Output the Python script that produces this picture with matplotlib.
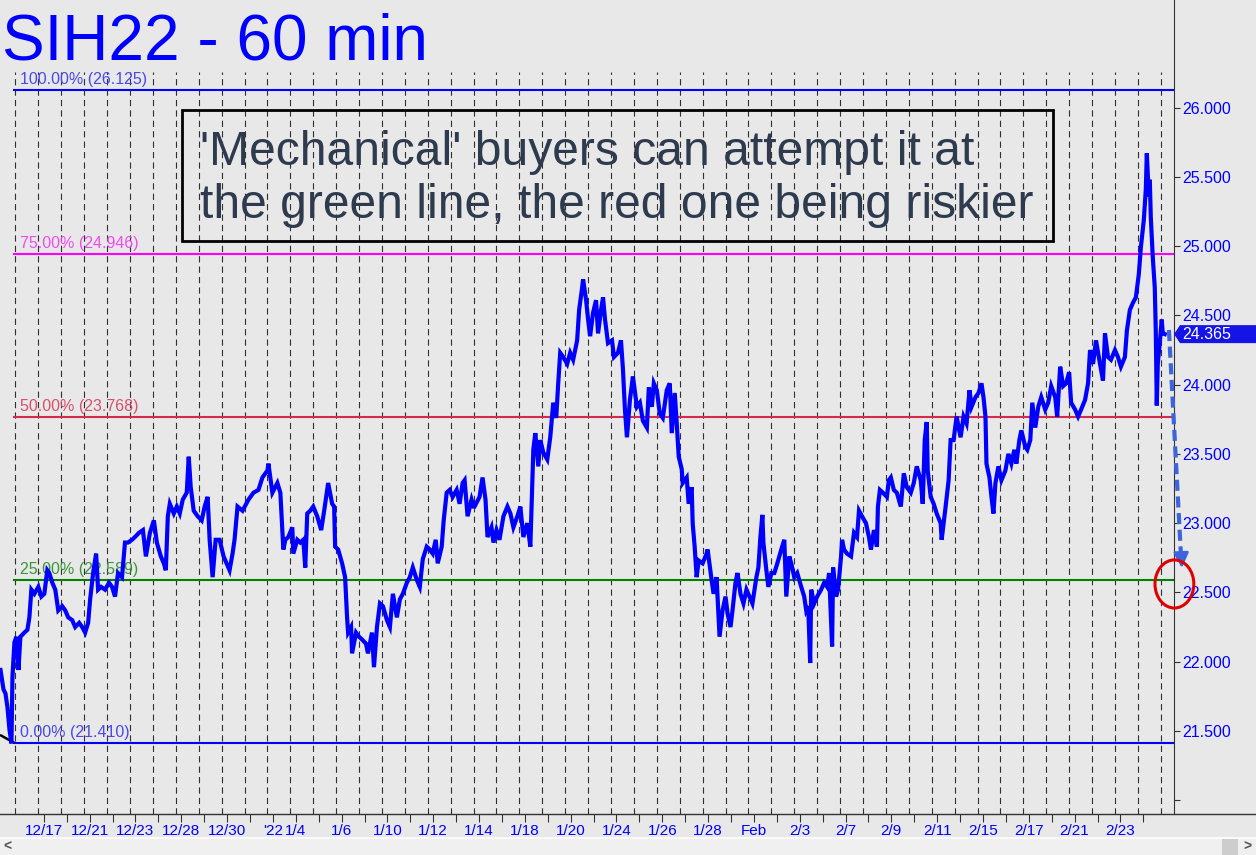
import matplotlib
matplotlib.use("Agg")
import matplotlib.pyplot as plt
import matplotlib.transforms as mtransforms
from matplotlib.patches import Rectangle, Ellipse, Polygon
from matplotlib.lines import Line2D

plt.rcParams['font.family'] = ['Liberation Sans', 'DejaVu Sans']
plt.rcParams['lines.scale_dashes'] = False

# ---------------- data (hourly bar index, 23 bars per trading day) ----------------
hours = [
    -15, -12, -10, -8, -6, -4, -3, -1, 1, 3, 5, 9, 12, 14, 16, 19, 23, 26, 29, 32,
    34, 37, 40, 43, 47, 50, 53, 57, 60, 64, 67, 70, 73, 75, 78, 81, 83, 86, 90, 94,
    97, 100, 103, 107, 110, 113, 117, 120, 124, 128, 131, 135, 139, 142, 146, 149, 151, 153, 155, 159,
    162, 165, 168, 172, 174, 176, 179, 183, 187, 190, 193, 195, 198, 201, 205, 209, 212, 215, 218,
    220, 223, 228, 234, 239, 244, 248, 253, 254, 258, 263, 266, 269, 271, 274, 278, 279, 283, 286, 289,
    291, 293, 296, 299, 303, 307, 310, 314, 318, 320, 321, 324, 328, 331, 333, 334, 337, 338, 342, 345,
    348, 352, 354, 358, 360, 363, 366, 369, 373, 376, 379, 383, 386, 389, 393, 396, 399, 403, 406, 409,
    413, 416, 419, 422, 424, 428, 430, 433, 436, 439, 443, 446, 449, 451, 454, 458, 460,
    461, 466, 469, 472, 474, 478, 480, 483, 486, 490, 494, 497, 500, 504, 507, 510, 514, 517, 520, 522,
    525, 527, 530, 534, 537, 540, 543, 545, 547, 550, 554, 557, 560, 564, 566, 569, 570, 573, 575, 577,
    580, 583, 585, 588, 590, 592, 595, 599, 601, 605, 608, 610, 612, 614, 617, 620, 624, 627, 630, 634,
    636, 639, 641, 644, 647, 650, 654, 657, 659, 662, 664, 666, 669, 670, 674, 676, 679, 680, 682, 684,
    686, 690, 694,
    695, 699, 701, 704, 706, 707, 710, 713, 715, 718, 720, 723, 725, 728, 731, 734, 737, 740, 744, 746,
    748, 750, 751, 754, 756, 759, 762, 765, 769, 772, 774, 777, 779, 782, 785, 789, 792, 794, 796, 798,
    799, 802, 805, 809, 812, 815, 817, 820, 821, 824, 826, 829, 830, 832, 835, 839, 842, 845, 847, 850,
    854, 857, 859, 862, 865, 866, 868, 871, 875, 877, 879, 882, 885, 889, 892, 895, 899, 902, 905, 909,
    911, 913, 915, 916, 919, 922, 925, 929,
    930, 934, 937, 939, 942, 945, 949, 952, 955, 958, 960, 964, 967, 970, 972, 974, 975, 978, 980, 982,
    984, 987, 990, 994, 997, 1000, 1003, 1005, 1008, 1010, 1014, 1016, 1019, 1021, 1024, 1027, 1030, 1034, 1037, 1040,
    1044, 1046, 1049, 1052, 1055, 1058, 1060, 1064, 1067, 1070, 1074, 1077, 1079, 1082, 1085, 1089, 1092, 1094, 1097, 1100,
    1104, 1107, 1110, 1114, 1116, 1119, 1122, 1125, 1128, 1130, 1133, 1135, 1136, 1138, 1139, 1140, 1142, 1144, 1145, 1146,
    1147, 1149, 1151, 1152, 1154,
]
prices = [
    21.94, 21.80, 21.77, 21.67, 21.51, 21.41, 21.89, 22.14, 22.18, 21.94, 22.18, 22.21, 22.23, 22.32, 22.52, 22.49, 22.54, 22.47, 22.49, 22.66,
    22.64, 22.57, 22.52, 22.37, 22.40, 22.37, 22.32, 22.30, 22.25, 22.28, 22.25, 22.21, 22.28, 22.45, 22.64, 22.78, 22.52, 22.54, 22.52, 22.57,
    22.54, 22.47, 22.64, 22.61, 22.86, 22.86, 22.88, 22.90, 22.93, 22.95, 22.76, 22.93, 23.02, 22.86, 22.76, 22.71, 22.66, 23.05, 23.14, 23.07,
    23.12, 23.07, 23.17, 23.22, 23.48, 23.26, 23.09, 23.05, 23.02, 23.12, 23.19, 22.88, 22.61, 22.88, 22.88, 22.76, 22.71, 22.66, 22.78,
    22.88, 23.12, 23.09, 23.17, 23.22, 23.24, 23.33, 23.38, 23.43, 23.22, 23.29, 23.22, 22.81, 22.88, 22.90, 22.97, 22.78, 22.88, 22.86, 22.88,
    22.68, 23.07, 23.09, 23.12, 23.05, 22.95, 23.09, 23.29, 23.14, 23.12, 22.83, 22.81, 22.71, 22.61, 22.32, 22.21, 22.25, 22.06, 22.21, 22.18,
    22.16, 22.13, 22.06, 22.21, 21.96, 22.25, 22.42, 22.40, 22.30, 22.25, 22.49, 22.32, 22.45, 22.49, 22.57, 22.61, 22.68, 22.59, 22.54, 22.74,
    22.83, 22.81, 22.78, 22.88, 22.71, 22.83, 23.02, 23.22, 23.24, 23.19, 23.24, 23.14, 23.29, 23.31, 23.05, 23.17, 23.12,
    23.12, 23.19, 23.33, 23.17, 22.90, 22.97, 22.86, 22.95, 22.88, 23.05, 23.12, 23.07, 22.97, 23.05, 23.12, 22.90, 23.00, 22.83, 23.53, 23.65,
    23.41, 23.60, 23.51, 23.46, 23.62, 23.87, 23.76, 24.01, 24.23, 24.20, 24.15, 24.23, 24.18, 24.32, 24.54, 24.70, 24.76, 24.61, 24.47, 24.35,
    24.52, 24.61, 24.37, 24.54, 24.63, 24.47, 24.30, 24.32, 24.20, 24.23, 24.32, 24.11, 23.82, 23.62, 23.89, 24.06, 23.84, 23.87, 23.74, 23.69,
    23.98, 23.84, 24.01, 23.96, 23.79, 23.76, 23.96, 24.01, 23.65, 23.94, 23.72, 23.48, 23.39, 23.29, 23.33, 23.14, 23.26, 23.00, 22.83, 22.61,
    22.73, 22.71, 22.78,
    22.81, 22.59, 22.49, 22.61, 22.32, 22.18, 22.37, 22.47, 22.35, 22.25, 22.37, 22.57, 22.64, 22.49, 22.42, 22.52, 22.47, 22.42, 22.61, 22.68,
    22.90, 23.06, 22.86, 22.66, 22.54, 22.64, 22.64, 22.71, 22.81, 22.88, 22.47, 22.76, 22.71, 22.61, 22.64, 22.54, 22.47, 22.37, 22.40, 21.99,
    22.52, 22.42, 22.47, 22.52, 22.57, 22.54, 22.64, 22.11, 22.68, 22.47, 22.52, 22.76, 22.88, 22.81, 22.78, 22.76, 22.93, 22.90, 23.09, 23.05,
    23.00, 22.90, 22.81, 22.95, 22.83, 23.12, 23.24, 23.22, 23.19, 23.31, 23.33, 23.24, 23.22, 23.12, 23.36, 23.26, 23.22, 23.29, 23.41, 23.31,
    23.14, 23.60, 23.73, 23.38, 23.19, 23.14, 23.07, 23.00,
    22.88, 23.12, 23.31, 23.60, 23.60, 23.77, 23.62, 23.77, 23.72, 23.96, 23.84, 23.91, 23.94, 24.01, 23.91, 23.77, 23.43, 23.33, 23.19, 23.07,
    23.29, 23.41, 23.31, 23.38, 23.50, 23.43, 23.53, 23.43, 23.60, 23.67, 23.55, 23.53, 23.60, 23.87, 23.69, 23.84, 23.91, 23.82, 23.87, 23.99,
    23.91, 23.77, 24.13, 23.99, 24.01, 24.09, 23.87, 23.82, 23.77, 23.82, 23.89, 24.01, 24.25, 24.15, 24.32, 24.15, 24.03, 24.37, 24.20, 24.18,
    24.25, 24.20, 24.13, 24.20, 24.39, 24.54, 24.59, 24.63, 24.80, 24.99, 25.19, 25.41, 25.67, 25.36, 25.48, 25.21, 24.92, 24.70, 24.39, 23.85,
    24.15, 24.30, 24.47, 24.37, 24.365,
]
assert len(hours) == len(prices)

trend_hours = [-15.5, -1.0]
trend_prices = [21.471, 21.413]

fib_levels = [26.125, 24.946, 23.768, 22.589, 21.410]
fib_pcts = ['100.00%', '75.00%', '50.00%', '25.00%', '0.00%']
fib_colors = ['#0000ff', '#ff00ff', '#d62a4c', '#008000', '#0000ff']
fib_label_colors = ['#4a4ae8', '#f04cf0', '#d8506c', '#3a963a', '#4a4ae8']

bars_per_day = 23
n_day_lines = 51
date_labels = ['12/17', '12/21', '12/23', '12/28', '12/30', "'22", '1/4', '1/6', '1/10', '1/12',
               '1/14', '1/18', '1/20', '1/24', '1/26', '1/28', 'Feb', '2/3', '2/7', '2/9',
               '2/11', '2/15', '2/17', '2/21', '2/23']
date_label_days = [1, 3, 5, 7, 9, 11, 12, 14, 16, 18, 20, 22, 24, 26, 28, 30, 32, 34, 36, 38,
                   40, 42, 44, 46, 48]
y_ticks = [21.0, 21.5, 22.0, 22.5, 23.0, 23.5, 24.0, 24.5, 25.0, 25.5, 26.0]
last_price = 24.365

title = 'SIH22 - 60 min'
note_lines = ["'Mechanical' buyers can attempt it at", "the green line, the red one being riskier"]

# annotation geometry (data units)
arrow_start = (1158.2, 24.395)
arrow_end = (1171.2, 22.676)
circle_center = (1163.7, 22.561)
circle_size = (39.0, 0.347)

# ---------------- figure ----------------
W, H = 1256, 855
BG = '#e8e8e8'
fig = plt.figure(figsize=(W / 100, H / 100), dpi=100, facecolor=BG)
ax = fig.add_axes([0, 41 / H, 1174 / W, 814 / H])
ax.set_facecolor(BG)
ax.set_xlim(-15.5, 1163.3)
ax.set_ylim(20.900, 26.7776)

for s in ['left', 'top', 'bottom']:
    ax.spines[s].set_visible(False)
ax.spines['right'].set_color('#333333')
ax.spines['right'].set_linewidth(0.8)

# day separators
for k in range(n_day_lines):
    ax.axvline(k * bars_per_day, ymin=0, ymax=1 - 72 / 814, color='#303030', lw=0.8,
               dashes=(4.5, 3.0), zorder=1)

# fib lines + labels
for lev, pct, c, lc in zip(fib_levels, fib_pcts, fib_colors, fib_label_colors):
    ax.hlines(lev, -2, 1163.3, color=c, lw=1.5, zorder=2)
    tr = mtransforms.offset_copy(ax.transData, fig=fig, x=0, y=3, units='dots')
    ax.text(4.6, lev, f'{pct} ({lev:.3f})', color=lc, fontsize=11.5, va='bottom', ha='left',
            transform=tr, zorder=3)

# trend line segment
ax.plot(trend_hours, trend_prices, color='black', lw=1.8, zorder=4, solid_capstyle='butt')

# price
ax.plot(hours, prices, color='#0000ff', lw=3.0, zorder=5, solid_joinstyle='miter')

# y axis on right
ax.yaxis.tick_right()
ax.set_yticks(y_ticks)
ax.set_yticklabels(['' if v == 21.0 else f'{v:.3f}' for v in y_ticks])
ax.tick_params(axis='y', direction='out', length=4.5, width=0.8, color='#333333',
               labelcolor='#0000ff', labelsize=11.5, pad=1.5)

# x axis
ticks = [k * bars_per_day + 5.5 for k in range(1, 50)]
lab = {d: t for d, t in zip(date_label_days, date_labels)}
ax.set_xticks(ticks)
ax.set_xticklabels([lab.get(k, '') for k in range(1, 50)])
ax.tick_params(axis='x', direction='out', length=5.5, width=0.8, color='#333333',
               labelcolor='#0000ff', labelsize=11, pad=1.5)

# bottom axis line across full width
fig.add_artist(Line2D([0, 1], [41 / H, 41 / H], transform=fig.transFigure, color='#333333', lw=1.0))

# title
fig.text(2 / W, 1 - 60 / H, title, color='#0000ff', fontsize=46, va='baseline', ha='left')

# note box
fig.add_artist(Rectangle((182 / W, 1 - 241 / H), 871 / W, 131 / H, transform=fig.transFigure,
                         fill=False, edgecolor='black', lw=2.0))
fig.text(200 / W, 1 - 165 / H, note_lines[0], color='#2e3a4e', fontsize=34.6, va='baseline', ha='left')
fig.text(200 / W, 1 - 218 / H, note_lines[1], color='#2e3a4e', fontsize=34.6, va='baseline', ha='left')

# price tag
bt = mtransforms.blended_transform_factory(fig.transFigure, ax.transData)
hh = 9 / 138.5
tag = Polygon([(1174 / W, last_price), (1180 / W, last_price + hh), (1.0, last_price + hh),
               (1.0, last_price - hh), (1180 / W, last_price - hh)], closed=True,
              transform=bt, facecolor='#1414e6', edgecolor='none', clip_on=False, zorder=6)
fig.add_artist(tag)
fig.add_artist(matplotlib.text.Text(1182 / W, last_price, f'{last_price:.3f}', transform=bt, color='white',
                                    fontsize=11.5, va='center', ha='left', zorder=8))

# dashed arrow
ax.plot([arrow_start[0], arrow_end[0] - 0.9], [arrow_start[1], arrow_end[1] + 0.09], color='#3c64dc', lw=3.0,
        dashes=(8, 4), clip_on=False, zorder=6)
ax.annotate('', xy=arrow_end, xytext=(arrow_end[0] - 0.8, arrow_end[1] + 0.12),
            arrowprops=dict(arrowstyle='-|>,head_length=0.9,head_width=0.45', color='#3c64dc', lw=2.0,
                            shrinkA=0, shrinkB=0), annotation_clip=False, zorder=7)

# red circle
ax.add_patch(Ellipse(circle_center, circle_size[0], circle_size[1], fill=False, edgecolor='#e00000', lw=2.2,
                     clip_on=False, zorder=7))

# scrollbar strip
fig.add_artist(Rectangle((0, 0), 1, 16 / H, transform=fig.transFigure, facecolor='#f0f0f0', edgecolor='none'))
fig.add_artist(Line2D([0, 1], [17 / H, 17 / H], transform=fig.transFigure, color='white', lw=1.2))
fig.add_artist(Rectangle((1222 / W, 0), 16 / W, 16 / H, transform=fig.transFigure, facecolor='#cdcdcd',
                         edgecolor='none'))
fig.text(7 / W, 1 - 847 / H, '<', color='#555555', fontsize=10, fontweight='bold', va='center', ha='center')
fig.text(1247 / W, 1 - 847 / H, '>', color='#555555', fontsize=10, fontweight='bold', va='center', ha='center')

fig.savefig('out.png', dpi=100, facecolor=BG)
